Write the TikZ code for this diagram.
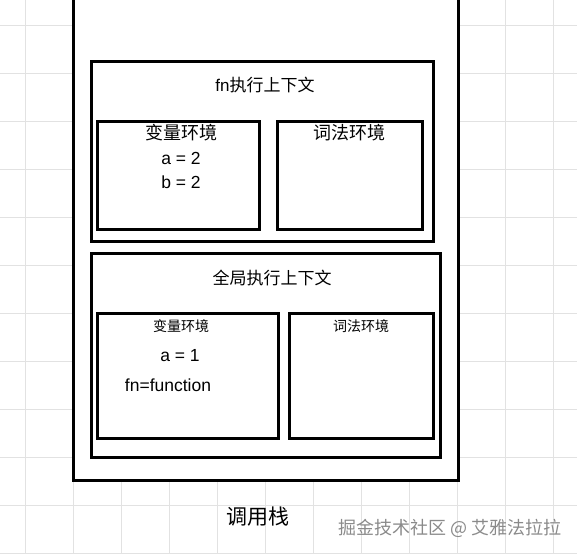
\documentclass[tikz,border=0pt]{standalone}
\usepackage{fontspec}
\setmainfont{Liberation Sans}
\newfontfamily\cjk{Noto Sans CJK SC}
\usetikzlibrary{positioning}
\definecolor{gridgray}{HTML}{E2E2E2}
\definecolor{markgray}{HTML}{8A8A8A}
\tikzset{
  box/.style={draw,line width=3pt,fill=white,inner sep=0pt},
  gridline/.style={gridgray,line width=0.8pt},
  ctxlabel/.style={inner sep=0pt,font=\fontsize{17}{20}\selectfont},
  envlabel/.style={inner sep=0pt,font=\cjk\fontsize{18}{21}\selectfont},
  smallenv/.style={inner sep=0pt,font=\cjk\fontsize{14}{17}\selectfont},
  vartext/.style={inner sep=0pt,font=\fontsize{17.5}{20}\selectfont},
  stacklabel/.style={inner sep=0pt,font=\cjk\fontsize{21}{24}\selectfont},
  watermark/.style={inner sep=0pt,text=markgray,font=\cjk\fontsize{18}{21}\selectfont}
}

\begin{document}
\begin{tikzpicture}[x=1pt,y=-1pt]
  \useasboundingbox (0,0) rectangle (577,554);
  \clip (0,0) rectangle (577,554);
  % background grid
  \foreach \k in {0,...,11} {
    \draw[gridline] (25+48*\k,0) -- (25+48*\k,554);
    \draw[gridline] (0,25+48*\k) -- (577,25+48*\k);
  }

  % call stack and the two contexts
  \node[box,minimum width=385pt,minimum height=500pt] (stack) at (265.5,230) {};
  \node[box,minimum width=342pt,minimum height=180pt] (fnctx) at (262,151) {};
  \node[box,minimum width=162pt,minimum height=108pt] (fnvar) at (178,175) {};
  \node[box,minimum width=145pt,minimum height=108pt] (fnlex) at (349.5,175) {};
  \node[box,minimum width=349pt,minimum height=204pt] (globctx) at (265.5,355) {};
  \node[box,minimum width=181pt,minimum height=125pt] (globvar) at (187.5,375.5) {};
  \node[box,minimum width=144pt,minimum height=125pt] (globlex) at (361,375.5) {};

  % fn context texts
  \node[ctxlabel] (fntitle) at (265,85) {fn{\cjk 执行上下文}};
  \node[envlabel] (fnvartitle) at (181,133) {变量环境};
  \node[vartext] (fna) at (181,158) {a = 2};
  \node[vartext] (fnb) at (181,182) {b = 2};
  \node[envlabel] (fnlextitle) at (349,133) {词法环境};

  % global context texts
  \node[ctxlabel,font=\cjk\fontsize{17}{20}\selectfont] (globtitle) at (272,278) {全局执行上下文};
  \node[smallenv] (globvartitle) at (181,326) {变量环境};
  \node[vartext] (globa) at (180,356) {a = 1};
  \node[vartext] (globfn) at (168,385) {fn=function};
  \node[smallenv] (globlextitle) at (361,326) {词法环境};

  \node[stacklabel] (stacktitle) at (258,517) {调用栈};
  \node[watermark] (mark) at (450,528) {掘金技术社区 @ 艾雅法拉拉};
\end{tikzpicture}
\end{document}
